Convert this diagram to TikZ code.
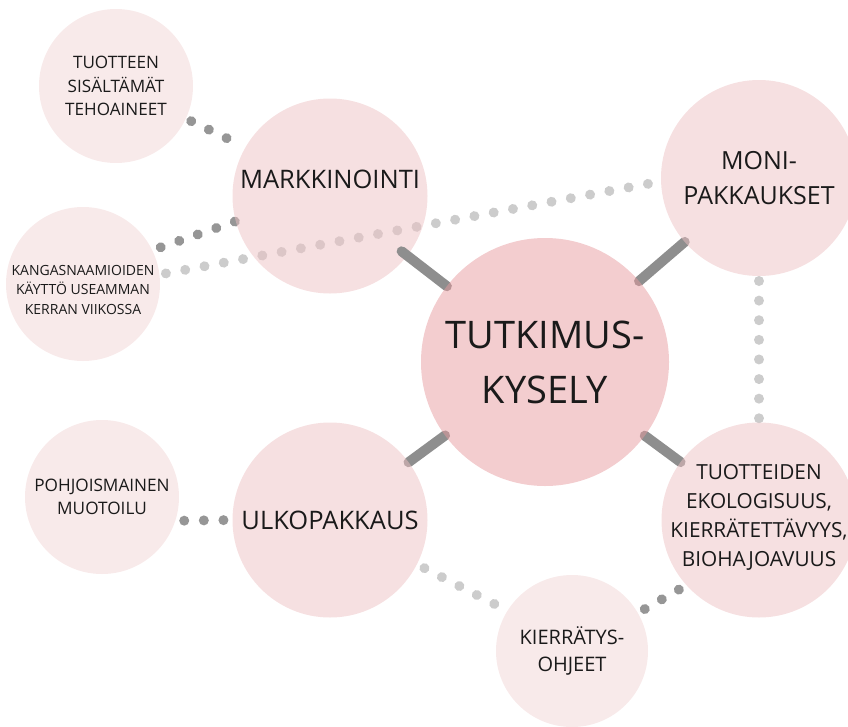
\documentclass[tikz,border=0pt]{standalone}
\usepackage{fontspec}
\setmainfont{Open Sans}
\definecolor{tutpink}{HTML}{E79B9F}
\definecolor{midpink}{HTML}{EDC1C3}
\definecolor{smallpink}{HTML}{F1D5D5}
\definecolor{bargray}{HTML}{8E8E8E}
\definecolor{dotdark}{HTML}{969696}
\definecolor{dotlight}{HTML}{CCCCCC}
\definecolor{ink}{HTML}{1A1A1A}
\pgfdeclarelayer{bg}
\pgfdeclarelayer{fg}
\pgfsetlayers{bg,main,fg}

\begin{document}
\begin{tikzpicture}[x=1pt,y=-1pt]
        \tikzstyle{ball}=[circle, inner sep=0pt, outer sep=0pt, fill opacity=0.5, text opacity=1, text=ink, align=center]
        \tikzstyle{big}=[ball, fill=tutpink, minimum size=248pt, font=\fontsize{38}{55}\selectfont]
        \tikzstyle{mid}=[ball, fill=midpink, minimum size=195pt]
        \tikzstyle{small}=[ball, fill=smallpink, minimum size=154pt]
        \tikzstyle{txt}=[text=ink, text opacity=1, align=center]
        \tikzstyle{bar}=[line width=10pt, line cap=round, draw=bargray]
        \tikzstyle{dotsdark}=[line width=10pt, line cap=round, dash pattern=on 0.01pt off 19.6pt, draw=dotdark]
        \tikzstyle{dotslight}=[dotsdark, draw=dotlight]

        \useasboundingbox (0,0) rectangle (848,726);

        % Outer circles
        \node[small, font=\fontsize{17.1}{23.5}\selectfont] (teho) at (116,86) {TUOTTEEN\\SISÄLTÄMÄT\\TEHOAINEET};
        \node[small, label={[txt, yshift=-5.5pt, font=\fontsize{14}{19.5}\selectfont]center:{KANGASNAAMIOIDEN\\KÄYTTÖ USEAMMAN\\KERRAN VIIKOSSA}}] (kangas) at (83,284) {};
        \node[small, font=\fontsize{17.2}{23.3}\selectfont] (pohj) at (102,497) {POHJOISMAINEN\\MUOTOILU};
        \node[small, minimum size=152pt, font=\fontsize{20}{27.7}\selectfont] (kierr) at (572,651) {KIERRÄTYS-\\OHJEET};

        % Middle circles
        \node[mid, label={[txt, yshift=17pt, font=\fontsize{25.5}{35}\selectfont]center:MARKKINOINTI}] (mark) at (330,196) {};
        \node[mid, minimum size=196pt, font=\fontsize{25}{35}\selectfont] (moni) at (759,178) {MONI-\\PAKKAUKSET};
        \node[mid, font=\fontsize{25.5}{35}\selectfont] (ulko) at (330,520) {ULKOPAKKAUS};
        \node[mid, label={[txt, yshift=3pt, font=\fontsize{20.8}{29}\selectfont]center:{TUOTTEIDEN\\EKOLOGISUUS,\\KIERRÄTETTÄVYYS,\\BIOHAJOAVUUS}}] (ekol) at (759,520) {};

        % Centre circle
        \begin{pgfonlayer}{fg}
            \node[big] (tut) at (545,362) {TUTKIMUS-\\KYSELY};
        \end{pgfonlayer}

        % Connectors below the circles
        \begin{pgfonlayer}{bg}
            \draw[bar] (moni) -- (tut);
            \draw[bar] (ulko) -- (tut);
            \draw[bar] (ekol) -- (tut);

            \draw[dotsdark, shorten <=6pt, shorten >=18pt] (teho.-25) -- (mark.150);
            \draw[dotsdark, shorten <=9pt] (kangas.26) -- (mark.195);
            \draw[dotslight, shorten <=6.6pt, shorten >=12pt] (kangas.7) -- (moni.182);
            \draw[dotslight, shorten <=5pt, shorten >=3pt] (moni.-90) -- (ekol.90);
            \draw[dotsdark, shorten <=9pt, shorten >=8pt] (pohj.-18) -- (ulko.180);
            \draw[dotslight, shorten <=8.5pt, shorten >=14pt] (ulko.-27) -- (kierr.148);
            \draw[dotsdark, shorten <=8pt, shorten >=7pt] (kierr.30) -- (ekol.222);
        \end{pgfonlayer}

        % This one lies over its own circle
        \draw[bar, shorten <=-7pt] (mark) -- (tut);
\end{tikzpicture}
\end{document}
